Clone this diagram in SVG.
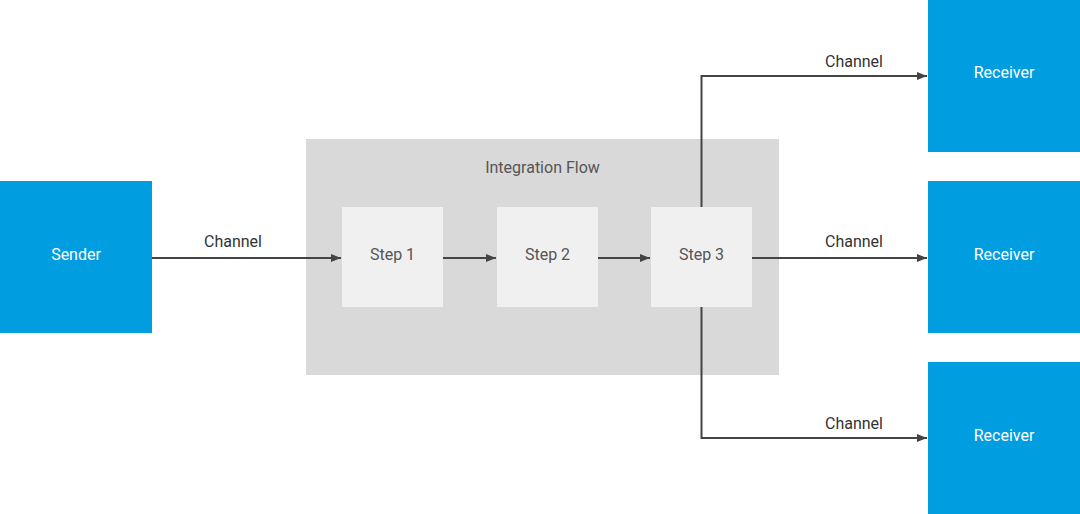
<svg xmlns="http://www.w3.org/2000/svg" width="1080" height="514" viewBox="0 0 1080 514">
<style>
.blue{fill:#009de0}
.step{fill:#f0f0f0}
.wt{fill:#ffffff;font-family:Roboto,"Liberation Sans",sans-serif;font-size:16px;text-anchor:middle;dominant-baseline:central}
.st{fill:#555555;font-family:Roboto,"Liberation Sans",sans-serif;font-size:16px;text-anchor:middle;dominant-baseline:central}
.lbl{fill:#333333;font-family:Roboto,"Liberation Sans",sans-serif;font-size:16px;text-anchor:middle;dominant-baseline:central}
.ln{fill:none;stroke:#444444;stroke-width:2}
</style>
<defs>
<marker id="ah" viewBox="0 0 10 10" refX="10" refY="5" markerWidth="5" markerHeight="5" markerUnits="strokeWidth" orient="auto">
<path d="M0,1 L10,5 L0,9 z" fill="#444444"/>
</marker>
</defs>
<rect width="1080" height="514" fill="#ffffff"/>
<g id="integration-flow">
<rect x="306" y="139" width="473" height="236" fill="#d9d9d9"/>
<text class="st" x="542.5" y="167">Integration Flow</text>
</g>
<g id="sender">
<rect class="blue" x="0" y="181" width="152" height="152"/>
<text class="wt" x="76" y="254">Sender</text>
</g>
<g id="step1">
<rect class="step" x="342" y="207" width="101" height="100"/>
<text class="st" x="392.5" y="254">Step 1</text>
</g>
<g id="step2">
<rect class="step" x="497" y="207" width="101" height="100"/>
<text class="st" x="547.5" y="254">Step 2</text>
</g>
<g id="step3">
<rect class="step" x="651" y="207" width="101" height="100"/>
<text class="st" x="701.5" y="254">Step 3</text>
</g>
<g id="receiver1">
<rect class="blue" x="928" y="0" width="152" height="152"/>
<text class="wt" x="1004" y="72">Receiver</text>
</g>
<g id="receiver2">
<rect class="blue" x="928" y="181" width="152" height="152"/>
<text class="wt" x="1004" y="254">Receiver</text>
</g>
<g id="receiver3">
<rect class="blue" x="928" y="362" width="152" height="152"/>
<text class="wt" x="1004" y="435">Receiver</text>
</g>
<g id="connectors">
<path class="ln" d="M152,258 H341" marker-end="url(#ah)"/>
<text class="lbl" x="233" y="241">Channel</text>
<path class="ln" d="M443,258 H496" marker-end="url(#ah)"/>
<path class="ln" d="M598,258 H650" marker-end="url(#ah)"/>
<path class="ln" d="M752,258 H927" marker-end="url(#ah)"/>
<text class="lbl" x="854" y="241">Channel</text>
<path class="ln" d="M701.5,207 V76 H927" marker-end="url(#ah)"/>
<text class="lbl" x="854" y="61">Channel</text>
<path class="ln" d="M701.5,307 V438 H927" marker-end="url(#ah)"/>
<text class="lbl" x="854" y="423">Channel</text>
</g>
</svg>
